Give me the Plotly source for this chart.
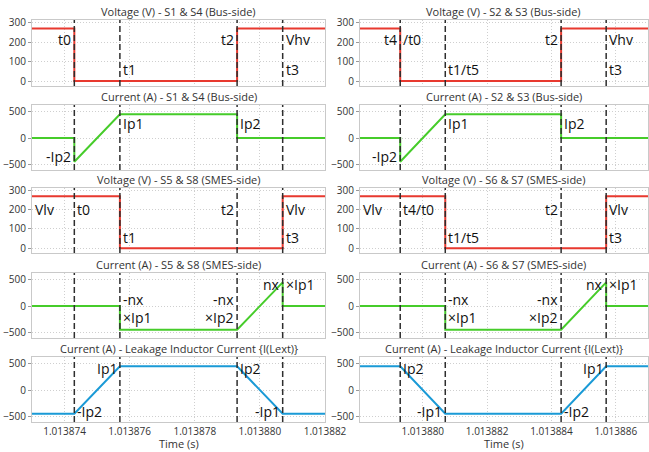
import plotly.graph_objects as go

# ---------------- data ----------------
# switching instants (s) for each column
t_left = [1.0138743, 1.0138757, 1.0138793, 1.0138807]
t_right = [1.0138793, 1.0138807, 1.0138843, 1.0138857]
xrange_left = [1.013873, 1.013882]
xrange_right = [1.01387805, 1.013887]

# time grid: start, t0, t0, t1, t1, t2, t2, t3, t3, end
time_left = [xrange_left[0], t_left[0], t_left[0], t_left[1], t_left[1],
             t_left[2], t_left[2], t_left[3], t_left[3], xrange_left[1]]
time_right = [xrange_right[0], t_right[0], t_right[0], t_right[1], t_right[1],
              t_right[2], t_right[2], t_right[3], t_right[3], xrange_right[1]]

v_bus = [270, 270, 0, 0, 0, 0, 270, 270, 270, 270]
i_bus = [0, 0, -445, 445, 445, 445, 0, 0, 0, 0]
v_smes = [270, 270, 270, 270, 0, 0, 0, 0, 270, 270]
i_smes = [0, 0, 0, 0, -445, -445, -445, 445, 0, 0]
i_leak_left = [-445, -445, -445, 445, 445, 445, 445, -445, -445, -445]
i_leak_right = [445, 445, 445, -445, -445, -445, -445, 445, 445, 445]

titles_left = ["Voltage (V) - S1 & S4 (Bus-side)", "Current (A) - S1 & S4 (Bus-side)",
               "Voltage (V) - S5 & S8 (SMES-side)", "Current (A) - S5 & S8 (SMES-side)",
               "Current (A) - Leakage Inductor Current {I(Lext)}"]
titles_right = ["Voltage (V) - S2 & S3 (Bus-side)", "Current (A) - S2 & S3 (Bus-side)",
                "Voltage (V) - S6 & S7 (SMES-side)", "Current (A) - S6 & S7 (SMES-side)",
                "Current (A) - Leakage Inductor Current {I(Lext)}"]

x_ticks = [1.013874, 1.013876, 1.013878, 1.013880, 1.013882, 1.013884, 1.013886]
x_ticktext = ["1.013874", "1.013876", "1.013878", "1.013880", "1.013882", "1.013884", "1.013886"]

RED = "#e8392f"
GREEN = "#46cc2a"
BLUE = "#1a9ad6"
FONT = "Open Sans"

# ---------------- layout geometry ----------------
W, H = 649, 452
col_px = [(32, 325), (360, 648)]
row_px = [(20, 86), (105, 170), (188, 253), (273, 338), (357, 422)]

fig = go.Figure()

series_left = [(v_bus, RED), (i_bus, GREEN), (v_smes, RED), (i_smes, GREEN), (i_leak_left, BLUE)]
series_right = [(v_bus, RED), (i_bus, GREEN), (v_smes, RED), (i_smes, GREEN), (i_leak_right, BLUE)]

shapes = []
annotations = []


def axname(k):
    return "" if k == 1 else str(k)


for r in range(5):
    for c in range(2):
        k = r * 2 + c + 1
        s = axname(k)
        times = time_left if c == 0 else time_right
        vals, colr = (series_left if c == 0 else series_right)[r]
        fig.add_trace(go.Scatter(x=times, y=vals, mode="lines",
                                 line=dict(color=colr, width=2),
                                 xaxis="x" + s, yaxis="y" + s, showlegend=False,
                                 hoverinfo="skip"))
        x0p, x1p = col_px[c]
        y0p, y1p = row_px[r]
        is_volt = r in (0, 2)
        xr = xrange_left if c == 0 else xrange_right
        fig.layout["xaxis" + s] = dict(
            domain=[x0p / W, x1p / W], anchor="y" + s, range=xr, automargin=False,
            tickvals=x_ticks, ticktext=x_ticktext,
            showticklabels=(r == 4),
            showgrid=True, gridcolor="#cfcfcf", griddash="1px,2px", gridwidth=1,
            showline=True, mirror=True, linecolor="#c9c9c9", linewidth=1,
            zeroline=False, ticks="", tickfont=dict(family=FONT, size=10, color="#333"),
        )
        fig.layout["yaxis" + s] = dict(
            domain=[1 - y1p / H, 1 - y0p / H], anchor="x" + s, automargin=False,
            range=[-25, 313] if is_volt else [-600, 620],
            tickvals=[0, 100, 200, 300] if is_volt else [-500, 0, 500],
            showgrid=True, gridcolor="#cfcfcf", griddash="1px,2px", gridwidth=1,
            showline=True, mirror=True, linecolor="#c9c9c9", linewidth=1,
            zeroline=False, ticks="outside", ticklen=3, tickcolor="#999",
            tickfont=dict(family=FONT, size=10, color="#333"),
        )
        tt = t_left if c == 0 else t_right
        for t in tt:
            shapes.append(dict(type="line", xref="x" + s, yref="y" + s + " domain",
                               x0=t, x1=t, y0=0, y1=1, layer="above",
                               line=dict(color="#2e2e2e", width=1.5, dash="6px,3px")))
        title = (titles_left if c == 0 else titles_right)[r]
        annotations.append(dict(text=title, xref="x" + s + " domain", yref="y" + s + " domain",
                                x=0.5, y=1, yanchor="bottom", xanchor="center", yshift=-1,
                                showarrow=False, font=dict(family=FONT, size=11, color="#333")))
        if r == 4:
            annotations.append(dict(text="Time (s)", xref="x" + s + " domain", yref="paper",
                                    x=0.5, y=0, yanchor="bottom", xanchor="center", yshift=-1,
                                    showarrow=False, font=dict(family=FONT, size=11, color="#333")))


def lab(k, text, x, y, side):
    s = axname(k)
    annotations.append(dict(text=text, xref="x" + s, yref="y" + s, x=x, y=y,
                            xanchor="right" if side == "l" else "left", yanchor="middle",
                            align="right" if side == "l" else "left",
                            xshift=-1 if side == "l" else 1,
                            showarrow=False, font=dict(family=FONT, size=14, color="#111")))


L, R = t_left, t_right
# Row 1
lab(1, "t0", L[0], 214, "l"); lab(1, "t1", L[1], 60, "r"); lab(1, "t2", L[2], 214, "l")
lab(1, "Vhv", L[3], 214, "r"); lab(1, "t3", L[3], 60, "r")
lab(2, "t4", R[0], 214, "l"); lab(2, "/t0", R[0], 214, "r"); lab(2, "t1/t5", R[1], 60, "r")
lab(2, "t2", R[2], 214, "l"); lab(2, "Vhv", R[3], 214, "r"); lab(2, "t3", R[3], 60, "r")
# Row 2
for k, T in ((3, L), (4, R)):
    lab(k, "-Ip2", T[0], -340, "l"); lab(k, "Ip1", T[1], 270, "r"); lab(k, "Ip2", T[2], 270, "r")
# Row 3
lab(5, "Vlv", xrange_left[0], 203, "r"); lab(5, "t0", L[0], 203, "r"); lab(5, "t1", L[1], 56, "r")
lab(5, "t2", L[2], 203, "l"); lab(5, "Vlv", L[3], 203, "r"); lab(5, "t3", L[3], 56, "r")
lab(6, "Vlv", xrange_right[0], 203, "r"); lab(6, "t4/t0", R[0], 203, "r"); lab(6, "t1/t5", R[1], 56, "r")
lab(6, "t2", R[2], 203, "l"); lab(6, "Vlv", R[3], 203, "r"); lab(6, "t3", R[3], 56, "r")
# Row 4
for k, T in ((7, L), (8, R)):
    lab(k, "-nx<br>×Ip1", T[1], -45, "r")
    lab(k, "-nx<br>×Ip2", T[2], -45, "l")
    lab(k, "nx", T[3], 410, "l"); lab(k, "×Ip1", T[3], 410, "r")
# Row 5
lab(9, "-Ip2", L[0], -400, "r"); lab(9, "Ip1", L[1], 400, "l")
lab(9, "Ip2", L[2], 400, "r"); lab(9, "-Ip1", L[3], -400, "l")
lab(10, "Ip2", R[0], 400, "r"); lab(10, "-Ip1", R[1], -400, "l")
lab(10, "-Ip2", R[2], -400, "r"); lab(10, "Ip1", R[3], 400, "l")

fig.update_layout(width=W, height=H, margin=dict(l=0, r=0, t=0, b=0),
                  paper_bgcolor="white", plot_bgcolor="white",
                  shapes=shapes, annotations=annotations,
                  font=dict(family=FONT, size=10, color="#333"))

fig.write_html("out.html", config={"displayModeBar": False},
               post_script="document.body.style.margin='0';document.body.style.overflow='hidden';")
